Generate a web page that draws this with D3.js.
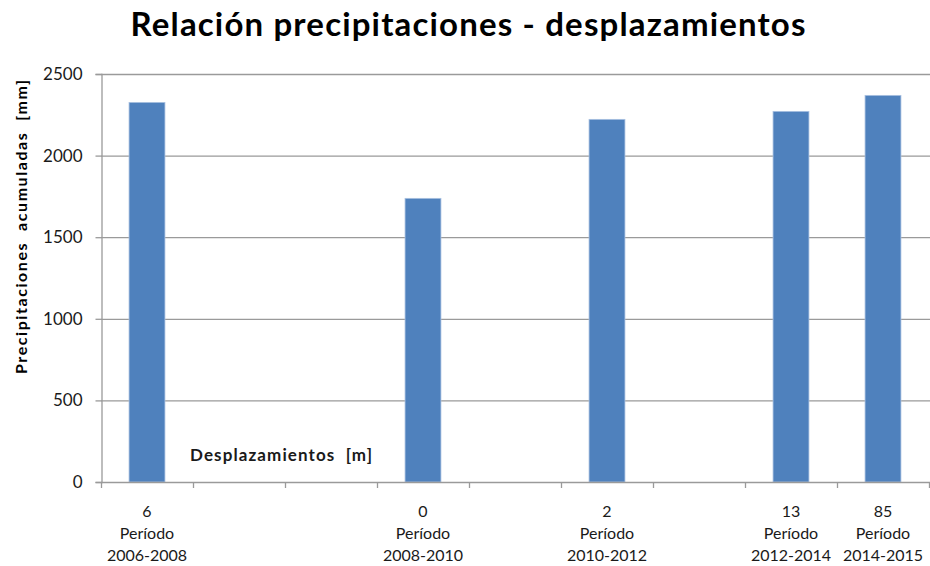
<!DOCTYPE html>
<html lang="es">
<head>
  <meta charset="UTF-8" />
  <title>Relación precipitaciones - desplazamientos</title>
  <script src="https://d3js.org/d3.v7.min.js"></script>
  <style>
    body {
      margin: 0;
      padding: 0;
      background: #fff;
      font-family: Lato, "Open Sans", sans-serif;
    }
    svg {
      display: block;
    }
    .tick-label {
      font-size: 17px;
      fill: #1a1a1a;
    }
    .cat-label {
      font-size: 16px;
      fill: #1a1a1a;
    }
  </style>
</head>
<body>
  <svg width="930" height="566"></svg>

  <script>
    // data
    const periods = ["2006-2008", "", "", "2008-2010", "", "2010-2012", "", "2012-2014", "2014-2015"];
    const displacements = [6, null, null, 0, null, 2, null, 13, 85];
    const precipitation = [2326, null, null, 1738, null, 2222, null, 2271, 2369];
    const yTicks = [0, 500, 1000, 1500, 2000, 2500];

    const svg = d3.select("svg");
    const plotLeft = 101, plotRight = 929, plotTop = 74, plotBottom = 482;

    const x = d3.scaleBand()
      .domain(periods.map((d, i) => i))
      .range([plotLeft, plotRight])
      .padding(0);

    const y = d3.scaleLinear()
      .domain([0, 2500])
      .range([plotBottom, plotTop]);

    // title
    svg.append("text")
      .attr("x", 468)
      .attr("y", 36)
      .attr("text-anchor", "middle")
      .attr("font-size", "33px")
      .attr("font-weight", "bold")
      .attr("fill", "#000")
      .attr("textLength", 675)
      .attr("lengthAdjust", "spacing")
      .text("Relación precipitaciones - desplazamientos");

    // gridlines
    svg.append("g")
      .selectAll("line")
      .data(yTicks.filter(d => d > 0))
      .enter()
      .append("line")
      .attr("x1", plotLeft)
      .attr("x2", 930)
      .attr("y1", d => y(d) + 0.5)
      .attr("y2", d => y(d) + 0.5)
      .attr("stroke", "#9a9a9a")
      .attr("stroke-width", 1.3);

    // y axis
    const yAxis = svg.append("g")
      .attr("transform", `translate(${plotLeft + 0.5},0)`)
      .call(d3.axisLeft(y).tickValues(yTicks).tickFormat(d3.format("d")).tickSize(6).tickPadding(13));
    yAxis.attr("font-family", null).attr("font-size", null);
    yAxis.select(".domain").attr("stroke", "#9a9a9a").attr("stroke-width", 1.3);
    yAxis.selectAll(".tick line").attr("stroke", "#9a9a9a").attr("stroke-width", 1.3);
    yAxis.selectAll(".tick text")
      .attr("class", "tick-label")
      .attr("fill", null);

    // bars
    svg.append("g")
      .selectAll("rect")
      .data(precipitation.map((v, i) => ({ i, v })).filter(d => d.v !== null))
      .enter()
      .append("rect")
      .attr("x", d => x(d.i) + x.bandwidth() * 0.305)
      .attr("width", x.bandwidth() * 0.39)
      .attr("y", d => y(d.v))
      .attr("height", d => plotBottom - y(d.v))
      .attr("fill", "#4f81bd")
      .attr("stroke", "#a9c0e0")
      .attr("stroke-width", 0.8);

    // x axis
    svg.append("line")
      .attr("x1", plotLeft)
      .attr("x2", 930)
      .attr("y1", plotBottom + 0.5)
      .attr("y2", plotBottom + 0.5)
      .attr("stroke", "#9a9a9a")
      .attr("stroke-width", 1.3);

    svg.append("g")
      .selectAll("line")
      .data(periods.map((d, i) => i).concat([periods.length]))
      .enter()
      .append("line")
      .attr("x1", i => i < periods.length ? x(i) + 0.5 : plotRight + 0.5)
      .attr("x2", i => i < periods.length ? x(i) + 0.5 : plotRight + 0.5)
      .attr("y1", plotBottom)
      .attr("y2", plotBottom + 6)
      .attr("stroke", "#9a9a9a")
      .attr("stroke-width", 1.3);

    // category labels (displacement + period)
    const cats = svg.append("g")
      .selectAll("text")
      .data(periods.map((p, i) => ({ p, i, dsp: displacements[i] })).filter(d => d.p !== ""))
      .enter()
      .append("text")
      .attr("class", "cat-label")
      .attr("text-anchor", "middle")
      .attr("x", d => x(d.i) + x.bandwidth() / 2);

    cats.append("tspan")
      .attr("x", d => x(d.i) + x.bandwidth() / 2)
      .attr("y", 517)
      .text(d => d.dsp);
    cats.append("tspan")
      .attr("x", d => x(d.i) + x.bandwidth() / 2)
      .attr("y", 539)
      .text("Período");
    cats.append("tspan")
      .attr("x", d => x(d.i) + x.bandwidth() / 2)
      .attr("y", 561)
      .text(d => d.p);

    // x label inside plot
    svg.append("text")
      .attr("x", 190)
      .attr("y", 461)
      .attr("font-size", "17px")
      .attr("font-weight", "bold")
      .attr("fill", "#1a1a1a")
      .attr("textLength", 182)
      .attr("lengthAdjust", "spacing")
      .style("white-space", "pre")
      .text("Desplazamientos  [m]");

    // y label
    svg.append("text")
      .attr("transform", "translate(27,227) rotate(-90)")
      .attr("text-anchor", "middle")
      .attr("font-size", "16px")
      .attr("font-weight", "bold")
      .attr("fill", "#000")
      .attr("textLength", 294)
      .attr("lengthAdjust", "spacing")
      .style("white-space", "pre")
      .text("Precipitaciones  acumuladas  [mm]");
  </script>
</body>
</html>
